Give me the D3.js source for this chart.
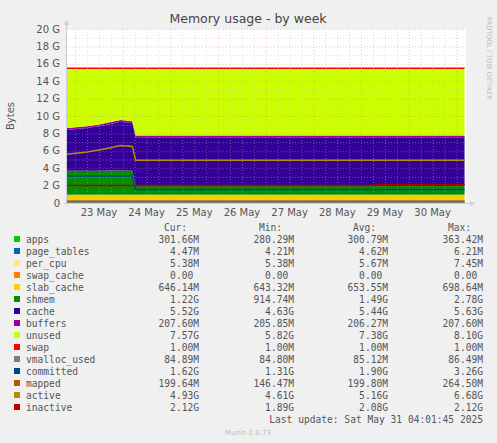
<!DOCTYPE html>
<html><head><meta charset="utf-8">
<script src="https://cdn.jsdelivr.net/npm/d3@7"></script>
<style>body{margin:0;background:#f0f0f0}svg{display:block}</style>
</head><body><svg id="c" width="497" height="443"></svg>
<script>
// time in days since 23 May 00:00
const times = [-0.17, 0.25, 0.5, 0.75, 0.95, 1.2, 1.27, 3, 5, 6.25, 6.3, 8.17];
const apps        = [0.3,0.3,0.3,0.3,0.3,0.3,0.3,0.3,0.3,0.3,0.3,0.3];
const page_tables = [0.005,0.005,0.005,0.005,0.005,0.005,0.005,0.005,0.005,0.005,0.005,0.005];
const per_cpu     = [0.005,0.005,0.005,0.005,0.005,0.005,0.005,0.005,0.005,0.005,0.005,0.005];
const swap_cache  = [0,0,0,0,0,0,0,0,0,0,0,0];
const slab_cache  = [0.65,0.65,0.65,0.65,0.65,0.65,0.65,0.65,0.65,0.65,0.65,0.65];
const shmem       = [2.75,2.75,2.75,2.78,2.78,2.75,1.0,1.0,1.0,1.0,1.0,1.0];
const cache       = [4.69,4.9,5.1,5.35,5.59,5.49,5.6,5.6,5.6,5.6,5.6,5.6];
const buffers     = [0.21,0.21,0.21,0.21,0.21,0.21,0.21,0.21,0.21,0.21,0.21,0.21];
const unused      = [6.89,6.68,6.48,6.2,5.96,6.09,7.73,7.73,7.73,7.73,7.73,7.73];
const swap        = [0.001,0.001,0.001,0.001,0.001,0.001,0.001,0.001,0.001,0.001,0.001,0.001];
const vmalloc_used= [0.085,0.085,0.085,0.085,0.085,0.085,0.085,0.085,0.085,0.085,0.085,0.085];
const committed   = [3.1,3.1,3.1,3.1,3.1,3.1,1.55,1.55,1.55,1.55,1.55,1.55];
const mapped      = [0.2,0.2,0.2,0.2,0.2,0.2,0.2,0.2,0.2,0.2,0.2,0.2];
const active      = [5.6,5.85,6.1,6.35,6.6,6.5,4.9,4.9,4.9,4.9,4.9,4.9];
const inactive    = [2.0,2.0,2.0,2.0,2.0,2.0,2.0,2.0,2.0,2.0,2.14,2.14];
const dayLabels = ["23 May","24 May","25 May","26 May","27 May","28 May","29 May","30 May"];
const yTicks = [0,2,4,6,8,10,12,14,16,18,20];
const stackNames = ["apps","page_tables","per_cpu","swap_cache","slab_cache","shmem","cache","buffers","unused","swap"];
const lineNames = ["vmalloc_used","committed","mapped","active","inactive"];
const series = {apps,page_tables,per_cpu,swap_cache,slab_cache,shmem,cache,buffers,unused,swap,vmalloc_used,committed,mapped,active,inactive};
const colors = {apps:"#00CC00",page_tables:"#0066B3",per_cpu:"#FFE680",swap_cache:"#FF8000",slab_cache:"#FFCC00",shmem:"#008F00",cache:"#330099",buffers:"#990099",unused:"#CCFF00",swap:"#FF0000",vmalloc_used:"#808080",committed:"#00487D",mapped:"#B35A00",active:"#B38F00",inactive:"#B30000"};
const legendRows = [
 ["apps","301.66M","280.29M","300.79M","363.42M"],
 ["page_tables","4.47M","4.21M","4.62M","6.21M"],
 ["per_cpu","5.38M","5.38M","5.67M","7.45M"],
 ["swap_cache","0.00 ","0.00 ","0.00 ","0.00 "],
 ["slab_cache","646.14M","643.32M","653.55M","698.64M"],
 ["shmem","1.22G","914.74M","1.49G","2.78G"],
 ["cache","5.52G","4.63G","5.44G","5.63G"],
 ["buffers","207.60M","205.85M","206.27M","207.60M"],
 ["unused","7.57G","5.82G","7.38G","8.10G"],
 ["swap","1.00M","1.00M","1.00M","1.00M"],
 ["vmalloc_used","84.89M","84.80M","85.12M","86.49M"],
 ["committed","1.62G","1.31G","1.90G","3.26G"],
 ["mapped","199.64M","146.47M","199.80M","264.50M"],
 ["active","4.93G","4.61G","5.16G","6.68G"],
 ["inactive","2.12G","1.89G","2.08G","2.12G"]];

const svg = d3.select("#c");
const L=67,R=466,T=29,B=203;
const x = d3.scaleLinear().domain([-0.17,8.2]).range([L,R]);
const y = d3.scaleLinear().domain([0,20]).range([B,T]);
svg.append("rect").attr("x",L).attr("y",T).attr("width",R-L).attr("height",B-T).attr("fill","#fff");

const data = times.map((t,i)=>{const o={t};for(const k in series)o[k]=series[k][i];return o;});
const stack = d3.stack().keys(stackNames)(data);
const area = d3.area().x(d=>x(d.data.t)).y0(d=>y(d[0])).y1(d=>y(d[1]));
svg.append("g").selectAll("path").data(stack).join("path").attr("d",area).attr("fill",d=>colors[d.key]);
// swap top line
svg.append("path").attr("d",d3.line().x(d=>x(d.data.t)).y(d=>y(d[1]))(stack[stack.length-1])).attr("stroke",colors.swap).attr("fill","none").attr("stroke-width",1.5);
// grid
const g=svg.append("g");
for(let v=0;v<=20;v++){ if(v===0)continue; g.append("line").attr("x1",L).attr("x2",R).attr("y1",y(v)+0.5).attr("y2",y(v)+0.5).attr("stroke",v%2?"#bbb":"#e08080").attr("stroke-width",0.6).attr("stroke-dasharray","1,2").attr("opacity",0.8);}
for(let d=-0.0;d<=8.2;d+=0.25){ const major=Math.abs(d-Math.round(d))<1e-6; g.append("line").attr("x1",x(d)+0.5).attr("x2",x(d)+0.5).attr("y1",T).attr("y2",B).attr("stroke",major?"#e08080":"#bbb").attr("stroke-width",0.6).attr("stroke-dasharray","1,2").attr("opacity",0.8);}
// lines
lineNames.forEach(k=>{svg.append("path").attr("d",d3.line().x(d=>x(d.t)).y(d=>y(d[k]))(data)).attr("stroke",colors[k]).attr("fill","none").attr("stroke-width",1.5);});
// axes
const ax=svg.append("g").attr("font-family","DejaVu Sans").attr("font-size",10).attr("fill","#555");
yTicks.forEach(v=>ax.append("text").attr("x",L-7).attr("y",y(v)+3.5).attr("text-anchor","end").text(v===0?"0":v+" G"));
dayLabels.forEach((s,i)=>ax.append("text").attr("x",x(i+0.5)).attr("y",216).attr("text-anchor","middle").text(s));
svg.append("line").attr("x1",L-3).attr("x2",R+4).attr("y1",B+0.5).attr("y2",B+0.5).attr("stroke","#ccd");
svg.append("line").attr("x1",L-0.5).attr("x2",L-0.5).attr("y1",B+3).attr("y2",T-5).attr("stroke","#ccd");
svg.append("path").attr("d",`M${L-3},${T-4}L${L+2},${T-4}L${L-0.5},${T-9}Z`).attr("fill","#ccd");
svg.append("path").attr("d",`M${R+4},${B-2}L${R+4},${B+3}L${R+9},${B+0.5}Z`).attr("fill","#ccd");
svg.append("text").attr("x",248).attr("y",23).attr("text-anchor","middle").attr("font-family","DejaVu Sans").attr("font-size",12.5).attr("fill","#444").text("Memory usage - by week");
svg.append("text").attr("transform","translate(14,116) rotate(-90)").attr("text-anchor","middle").attr("font-family","DejaVu Sans").attr("font-size",10).attr("fill","#555").text("Bytes");
svg.append("text").attr("transform","translate(487,58) rotate(90)").attr("text-anchor","middle").attr("font-family","DejaVu Sans").attr("font-size",6.5).attr("fill","#bbb").text("RRDTOOL / TOBI OETIKER");
// legend
const lg=svg.append("g").attr("font-family","DejaVu Sans Mono").attr("font-size",9.6).attr("fill","#555");
const cols=[199,294,388,483];
["Cur:","Min:","Avg:","Max:"].forEach((h,i)=>lg.append("text").attr("x",cols[i]-12).attr("y",231).attr("text-anchor","end").text(h));
legendRows.forEach((r,i)=>{const yy=243+i*12;
 lg.append("rect").attr("x",14).attr("y",yy-7).attr("width",6).attr("height",6).attr("fill",colors[r[0]]);
 lg.append("text").attr("x",26).attr("y",yy).text(r[0]);
 r.slice(1).forEach((v,j)=>lg.append("text").attr("x",cols[j]).attr("y",yy).attr("text-anchor","end").attr("xml:space","preserve").text(v));});
lg.append("text").attr("x",483).attr("y",423).attr("text-anchor","end").text("Last update: Sat May 31 04:01:45 2025");
svg.append("text").attr("x",248).attr("y",435).attr("text-anchor","middle").attr("font-family","DejaVu Sans").attr("font-size",7).attr("fill","#bbb").text("Munin 2.0.73");
</script></body></html>
